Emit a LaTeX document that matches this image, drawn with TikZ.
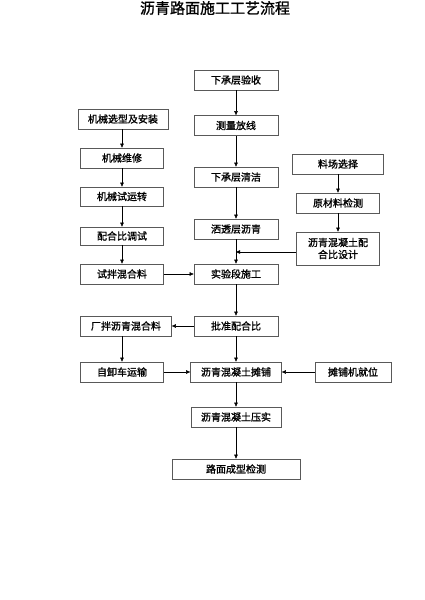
\documentclass[tikz,border=0pt]{standalone}
\usepackage{fontspec}
\newfontfamily\cjk[FakeBold=1.2]{Noto Sans CJK SC}
\usetikzlibrary{arrows.meta}

\begin{document}
\begin{tikzpicture}[x=1pt,y=-1pt,
    box/.style={draw=black!65,line width=0.7pt,minimum height=20pt,inner sep=0pt,font=\cjk\fontsize{10}{12}\selectfont},
    >={Triangle[length=4pt,width=3.5pt]}]
    \useasboundingbox (0,0) rectangle (425,600);
    \node (title) at (215,8) {\cjk\fontsize{15}{18}\selectfont 沥青路面施工工艺流程};
    % middle column
    \node[box,minimum width=84pt] (yanshou) at (236,80) {下承层验收};
    \node[box,minimum width=84pt] (fangxian) at (236,125.5) {测量放线};
    \node[box,minimum width=84pt] (qingjie) at (236,177) {下承层清洁};
    \node[box,minimum width=84pt] (satou) at (236,229) {洒透层沥青};
    \node[box,minimum width=84pt] (shiyan) at (236,274) {实验段施工};
    \node[box,minimum width=84pt] (pizhun) at (236,326) {批准配合比};
    \node[box,minimum width=91pt] (tanpu) at (236,372) {沥青混凝土摊铺};
    \node[box,minimum width=90pt] (yashi) at (236,417) {沥青混凝土压实};
    \node[box,minimum width=128pt] (jiance) at (236,469) {路面成型检测};
    % left column
    \node[box,minimum width=90pt] (xuanxing) at (123,119) {机械选型及安装};
    \node[box,minimum width=83pt] (weixiu) at (122,158) {机械维修};
    \node[box,minimum width=83pt,minimum height=19pt] (yunzhuan) at (122,196.5) {机械试运转};
    \node[box,minimum width=83pt,minimum height=18pt] (tiaoshi) at (122,236) {配合比调试};
    \node[box,minimum width=83pt] (shiban) at (122,274) {试拌混合料};
    \node[box,minimum width=91pt] (changban) at (126,326) {厂拌沥青混合料};
    \node[box,minimum width=83pt] (yunshu) at (122,372) {自卸车运输};
    % right column
    \node[box,minimum width=91pt] (liaochang) at (338,164) {料场选择};
    \node[box,minimum width=83pt] (yuancai) at (338,203) {原材料检测};
    \node[box,minimum width=83pt,minimum height=33pt,align=center] (sheji) at (338,248.5) {沥青混凝土配\\合比设计};
    \node[box,minimum width=76pt] (jiuwei) at (353,372) {摊铺机就位};
    \coordinate (j) at (236,252);

    \draw[->] (yanshou) -- (fangxian);
    \draw[->] (fangxian) -- (qingjie);
    \draw[->] (qingjie) -- (satou);
    \draw[->] (satou) -- (shiyan);
    \draw[->] (sheji.west |- j) -- (j);
    \draw[->] (shiyan) -- (pizhun);
    \draw[->] (pizhun) -- (tanpu);
    \draw[->] (tanpu) -- (yashi);
    \draw[->] (yashi) -- (jiance);
    \draw[->] (xuanxing.south -| weixiu) -- (weixiu);
    \draw[->] (weixiu) -- (yunzhuan);
    \draw[->] (yunzhuan) -- (tiaoshi);
    \draw[->] (tiaoshi) -- (shiban);
    \draw[->] (shiban) -- (shiyan);
    \draw[->] (pizhun) -- (changban);
    \draw[->] (changban.south -| yunshu) -- (yunshu);
    \draw[->] (yunshu) -- (tanpu);
    \draw[->] (jiuwei) -- (tanpu);
    \draw[->] (liaochang) -- (yuancai);
    \draw[->] (yuancai) -- (sheji);
\end{tikzpicture}
\end{document}
